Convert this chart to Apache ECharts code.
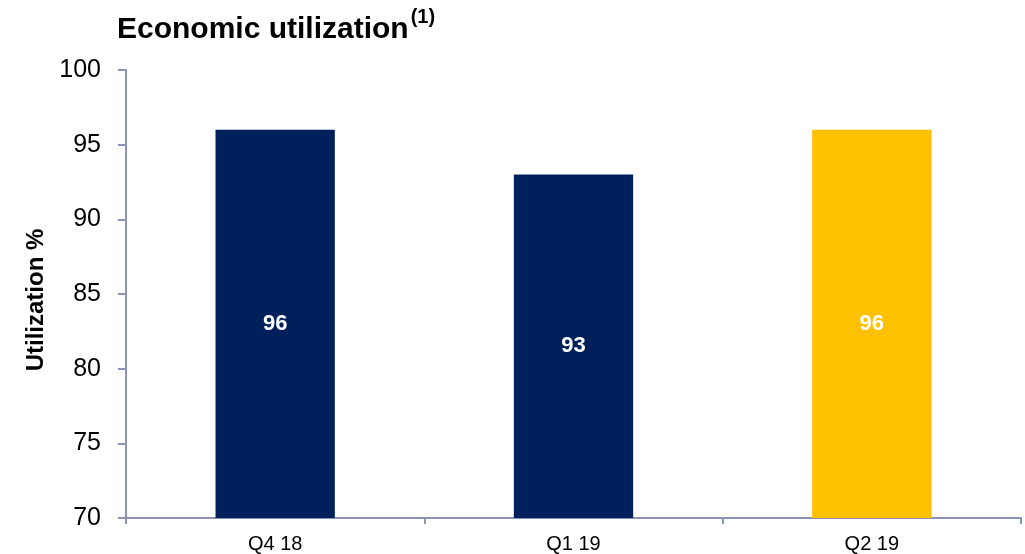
<!DOCTYPE html>
<html>
<head>
<meta charset="utf-8">
<script src="https://cdn.jsdelivr.net/npm/echarts@6/dist/echarts.min.js"></script>
<style>
  html, body { margin: 0; padding: 0; background: #ffffff; }
  #chart { width: 1025px; height: 554px; }
</style>
</head>
<body>
<div id="chart"></div>
<script>
// Quarterly economic utilization (%)
const categories = ['Q4 18', 'Q1 19', 'Q2 19'];
const utilization = [96, 93, 96];
const barColors = ['#00205B', '#00205B', '#FFC000'];
const yTicks = { min: 70, max: 100, interval: 5 };

const axisColor = '#8A92B5';
const font = '"Liberation Sans", Arial, sans-serif';

const chart = echarts.init(document.getElementById('chart'));
chart.setOption({
  animation: false,
  title: {
    text: '{main|Economic utilization}{sup|(1)}',
    left: 112,
    top: 2,
    textStyle: {
      rich: {
        main: { fontFamily: font, fontSize: 30, fontWeight: 'bold', color: '#000000', lineHeight: 38, verticalAlign: 'bottom' },
        sup: { fontFamily: font, fontSize: 20, fontWeight: 'bold', color: '#000000', lineHeight: 38, verticalAlign: 'top', padding: [0, 0, 14, 2] }
      }
    }
  },
  grid: { left: 126, right: 4, top: 70, bottom: 35, containLabel: false },
  xAxis: {
    type: 'category',
    data: categories,
    axisLine: { lineStyle: { color: axisColor, width: 2 } },
    axisTick: { show: true, length: 6, lineStyle: { color: axisColor, width: 2 } },
    axisLabel: { color: '#000000', fontFamily: font, fontSize: 20, margin: 16 }
  },
  yAxis: {
    type: 'value',
    min: yTicks.min,
    max: yTicks.max,
    interval: yTicks.interval,
    name: 'Utilization %',
    nameLocation: 'middle',
    nameGap: 78,
    nameTextStyle: { color: '#000000', fontFamily: font, fontSize: 24, fontWeight: 'bold', padding: [0, 12, 0, 0] },
    splitLine: { show: false },
    axisLine: { show: true, lineStyle: { color: axisColor, width: 2 } },
    axisTick: { show: true, length: 8, lineStyle: { color: axisColor, width: 2 } },
    axisLabel: { color: '#000000', fontFamily: font, fontSize: 25, margin: 25 }
  },
  series: [{
    type: 'bar',
    barWidth: '40%',
    data: utilization.map((v, i) => ({ value: v, itemStyle: { color: barColors[i] } })),
    label: {
      show: true,
      position: 'inside',
      color: '#ffffff',
      fontFamily: font,
      fontSize: 22,
      fontWeight: 'bold'
    }
  }]
});
</script>
</body>
</html>
